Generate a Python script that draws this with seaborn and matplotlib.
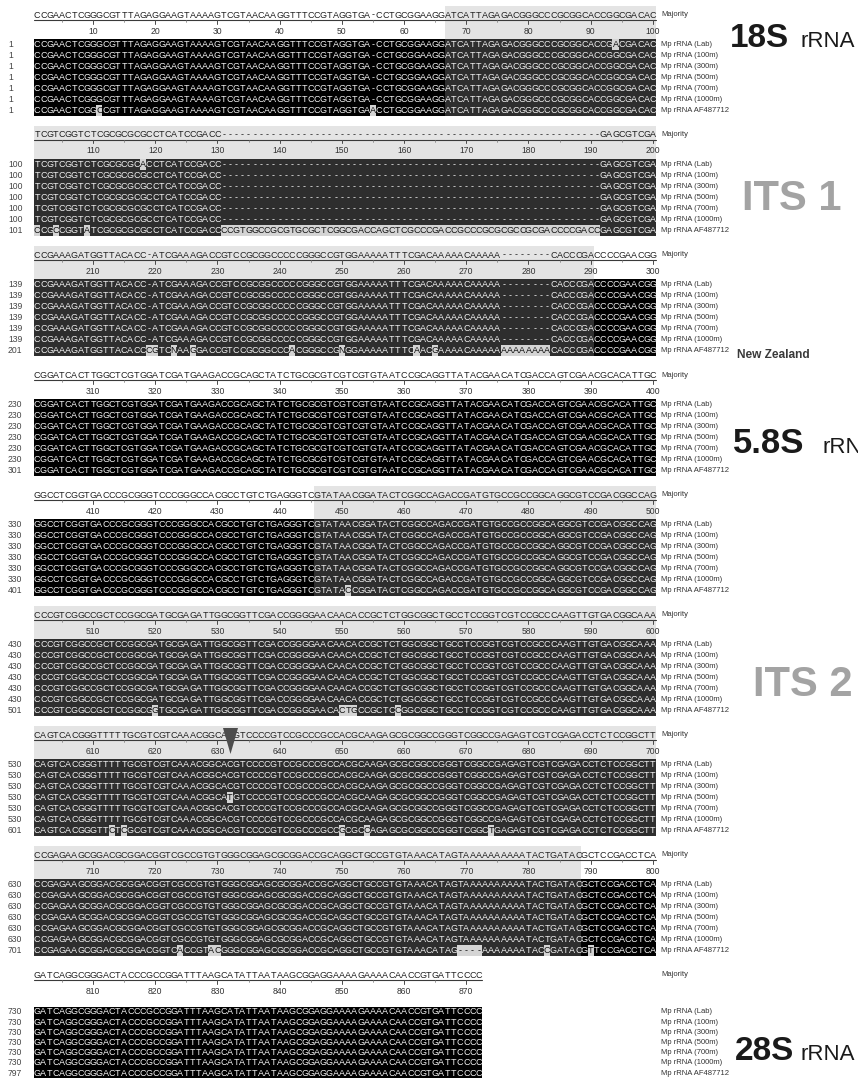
import numpy as np
import matplotlib
matplotlib.use("Agg")
import matplotlib.pyplot as plt
import seaborn as sns
from matplotlib.colors import ListedColormap
from matplotlib.patches import Polygon

sns.set_theme(style="white")
plt.rcParams["font.family"] = ["Liberation Sans", "DejaVu Sans"]

W, H = 858, 1081

# ---------------- data ----------------
block_first_pos = [1, 101, 201, 301, 401, 501, 601, 701, 801]
block_ncols = [100, 100, 100, 100, 100, 100, 100, 100, 72]

seq_names = ["Mp rRNA (Lab)", "Mp rRNA (100m)", "Mp rRNA (300m)", "Mp rRNA (500m)",
             "Mp rRNA (700m)", "Mp rRNA (1000m)", "Mp rRNA AF487712"]

block_row_numbers = [
    [1, 1, 1, 1, 1, 1, 1],
    [100, 100, 100, 100, 100, 100, 101],
    [139, 139, 139, 139, 139, 139, 201],
    [230, 230, 230, 230, 230, 230, 301],
    [330, 330, 330, 330, 330, 330, 401],
    [430, 430, 430, 430, 430, 430, 501],
    [530, 530, 530, 530, 530, 530, 601],
    [630, 630, 630, 630, 630, 630, 701],
    [730, 730, 730, 730, 730, 730, 797],
]

majority_lines = [
    "CCGAACTCGGGCGTTTAGAGGAAGTAAAAGTCGTAACAAGGTTTCCGTAGGTGA-CCTGCGGAAGGATCATTAGAGACGGGCCCGCGGCACCGGCGACAC",
    "TCGTCGGTCTCGCGCGCGCCTCATCCGACC" "----------" "----------" "----------" "----------" "----------" "----------" "-" "GAGCGTCGA",
    "CCGAAAGATGGTTACACC-ATCGAAAGACCGTCCGCGGCCCCCGGGCCGTGGAAAAATTTCGACAAAAACAAAAA--------CACCCGACCCCGAACGG",
    "CGGATCACTTGGCTCGTGGATCGATGAAGACCGCAGCTATCTGCGCGTCGTCGTGTAATCCGCAGGTTATACGAACATCGACCAGTCGAACGCACATTGC",
    "GGCCTCGGTGACCCGCGGGTCCCGGGCCACGCCTGTCTGAGGGTCGTATAACGGATACTCGGCCAGACCGATGTGCCGCCGGCAGGCGTCCGACGGCCAG",
    "CCCGTCGGCCGCTCCGGCGATGCGAGATTGGCGGTTCGACCGGGGAACAACACCGCTCTGGCGGCTGCCTCCGGTCGTCCGCCCAAGTTGTGACGGCAAA",
    "CAGTCACGGG" "TTTTTGCGTC" "GTCAAACGGC" "ACGTCCCCGT" "CCGCCCGCCA" "CGCAAGAGCG" "CGGCCGGGTC" "GGCCGAGAGT" "CGTCGAGACC" "TCTCCGGCTT",
    "CCGAGAAGCG" "GACGCGGACG" "GTCGCCGTGT" "GGGCGGAGCG" "CGGACCGCAG" "GCTGCCGTGT" "AAACATAGTA" "AAAAAAAAAT" "ACTGATACGC" "TCCGACCTCA",
    "GATCAGGCGGGACTACCCGCCGGATTTAAGCATATTAATAAGCGGAGGAAAAGAAAACAACCGTGATTCCCC",
]

af487712_lines = [
    "CCGAACTCGGCCGTTTAGAGGAAGTAAAAGTCGTAACAAGGTTTCCGTAGGTGAACCTGCGGAAGGATCATTAGAGACGGGCCCGCGGCACCGGCGACAC",
    "CCGCCGGTATCGCGCGCGCCTCATCCGACC" "CCGTGGCCGCGTGCGCTCGGCGACCAGCTCGCCCGACCGCCCGCGCGCCGCGACCCCGACC" "GAGCGTCGA",
    "CCGAAAGATGGTTACACC" "CGTCNAAGGACC" "GTCCGCGGCCC" "ACGGGCCG" "N" "GGAAAAATTTC" "A" "ACG" "AAAA" "C" "AAAAA" "AAAAAAAA" "CACCCGA" "CCCCGAACGG",
    "CGGATCACTTGGCTCGTGGATCGATGAAGACCGCAGCTATCTGCGCGTCGTCGTGTAATCCGCAGGTTATACGAACATCGACCAGTCGAACGCACATTGC",
    "GGCCTCGGTGACCCGCGGGTCCCGGGCCACGCCTGTCTGAGGGTCGTATACCGGATACTCGGCCAGACCGATGTGCCGCCGGCAGGCGTCCGACGGCCAG",
    "CCCGTCGGCCGCTCCGGCGGTGCGAGATTGGCGGTTCGACCGGGGAACACTGCCGCTCCGGCGGCTGCCTCCGGTCGTCCGCCCAAGTTGTGACGGCAAA",
    "CAGTCACGGG" "TTCTCGCGTC" "GTCAAACGGC" "ACGTCCCCGT" "CCGCCCGCCG" "CGCCAGAGCG" "CGGCCGGGTC" "GGCTGAGAGT" "CGTCGAGACC" "TCTCCGGCTT",
    "CCGAGAAGCG" "GACGCGGACG" "GTCACCGTAC" "GGGCGGAGCG" "CGGACCGCAG" "GCTGCCGTGT" "AAACATAG--" "--AAAAAAAT" "ACCGATACGT" "TCCGACCTCA",
    "GATCAGGCGGGACTACCCGCCGGATTTAAGCATATTAATAAGCGGAGGAAAAGAAAACAACCGTGATTCCCC",
]

lab_changes = {94: "A", 118: "A"}
m500_changes = {632: "T"}

its_regions = [(67, 290), (446, 788)]

region_labels = ["18S", "ITS 1", "5.8S", "ITS 2", "28S"]

# ---------------- layout constants ----------------
X0 = 34.0
CW = 6.22
block_top = [6, 126, 246, 366, 486, 606, 726, 846, 966]
block_rh = [11, 11, 11, 11, 11, 11, 11, 11, 10.2]
block_nh = [3, 3, 3, 3, 3, 3, 3, 3, 4]

cmap = ListedColormap(["#ffffff", "#e4e4e4", "#000000", "#2e2e2e", "#d4d4d4"])

fig = plt.figure(figsize=(W / 100, H / 100), dpi=100)
fig.patch.set_facecolor("white")


def ftext(x, y, s, **kw):
    fig.text(x / W, 1 - y / H, s, **kw)


def apply_changes(line, start, changes):
    chars = list(line)
    for pos, ch in changes.items():
        j = pos - start
        if 0 <= j < len(chars):
            chars[j] = ch
    return "".join(chars)


def in_its(pos):
    return any(a <= pos <= b for a, b in its_regions)


for b in range(9):
    start = block_first_pos[b]
    n = block_ncols[b]
    maj = majority_lines[b]
    nh = block_nh[b]
    RH = block_rh[b]
    rows = []
    for r in range(7):
        if r == 0:
            rows.append(apply_changes(maj, start, lab_changes))
        elif r == 3:
            rows.append(apply_changes(maj, start, m500_changes))
        elif r == 6:
            rows.append(af487712_lines[b])
        else:
            rows.append(maj)

    mat = np.zeros((nh + 7, n))
    for j in range(n):
        pos = start + j
        its = in_its(pos)
        mat[:nh, j] = 1 if its else 0
        for r in range(7):
            ch = rows[r][j] if j < len(rows[r]) else "-"
            mj = maj[j] if j < len(maj) else "-"
            if ch != mj:
                mat[nh + r, j] = 4
            else:
                mat[nh + r, j] = 3 if its else 2

    top = block_top[b]
    hpx = (nh + 7) * RH
    ax = fig.add_axes([X0 / W, 1 - (top + hpx) / H, n * CW / W, hpx / H])
    sns.heatmap(mat, ax=ax, cmap=cmap, vmin=-0.5, vmax=4.5, cbar=False,
                xticklabels=False, yticklabels=False, linewidths=0)
    ax.set_xlim(0, n)
    ax.set_ylim(nh + 7, 0)
    for s in ax.spines.values():
        s.set_visible(False)

    ymaj = 9 / RH
    yul = 14 / RH
    for j, ch in enumerate(maj[:n]):
        ax.text(j + 0.5, ymaj, ch, ha="center", va="center", fontsize=6.5, color="#1e1e1e")
    ax.plot([0, n], [yul, yul], color="#3a3a3a", lw=0.8, clip_on=False)
    for p in range(start, start + n):
        x = p - start + 0.5
        if p % 10 == 0:
            ax.plot([x, x], [yul, yul + 3.5 / RH], color="#4a4a4a", lw=0.7)
            ax.text(x, 25 / RH, str(p), ha="center", va="center", fontsize=6.2, color="#333333")
        elif p % 5 == 0:
            ax.plot([x, x], [yul, yul + 1.8 / RH], color="#777777", lw=0.5)

    for r in range(7):
        yc = nh + r + 0.5
        for j, ch in enumerate(rows[r][:n]):
            code = mat[nh + r, j]
            col = "#f2f2f2" if code in (2, 3) else "#111111"
            ax.text(j + 0.5, yc, ch, ha="center", va="center", fontsize=6.5, color=col)

    ftext(661, top + 9, "Majority", ha="left", va="center", fontsize=5.5, color="#333333")
    for r in range(7):
        ypx = top + (nh + r + 0.5) * RH
        ftext(8, ypx, str(block_row_numbers[b][r]), ha="left", va="center", fontsize=6.2, color="#444444")
        ftext(661, ypx, seq_names[r], ha="left", va="center", fontsize=5.5, color="#333333")

# ---------------- region labels ----------------
ftext(730, 47, region_labels[0], ha="left", va="baseline", fontsize=24, fontweight="bold", color="#1a1a1a")
ftext(800, 47, "rRNA", ha="left", va="baseline", fontsize=16, color="#1a1a1a")
ftext(742, 210, region_labels[1], ha="left", va="baseline", fontsize=30, fontweight="bold", color="#a3a3a3")
ftext(737, 358, "New Zealand", ha="left", va="baseline", fontsize=8.6, fontweight="bold", color="#3a3a3a")
ftext(733, 453, region_labels[2], ha="left", va="baseline", fontsize=25, fontweight="bold", color="#1a1a1a")
ftext(822, 453, "rRNA", ha="left", va="baseline", fontsize=16, color="#1a1a1a")
ftext(753, 696, region_labels[3], ha="left", va="baseline", fontsize=30, fontweight="bold", color="#a3a3a3")
ftext(735, 1060, region_labels[4], ha="left", va="baseline", fontsize=24, fontweight="bold", color="#1a1a1a")
ftext(800, 1060, "rRNA", ha="left", va="baseline", fontsize=16, color="#1a1a1a")

# arrow marker over position 632
tri = Polygon([(223 / W, 1 - 728 / H), (238 / W, 1 - 728 / H), (230.5 / W, 1 - 754 / H)],
              closed=True, transform=fig.transFigure, facecolor="#4d4d4d", edgecolor="none")
fig.patches.append(tri)

fig.savefig("out.png", dpi=100, facecolor="white")
